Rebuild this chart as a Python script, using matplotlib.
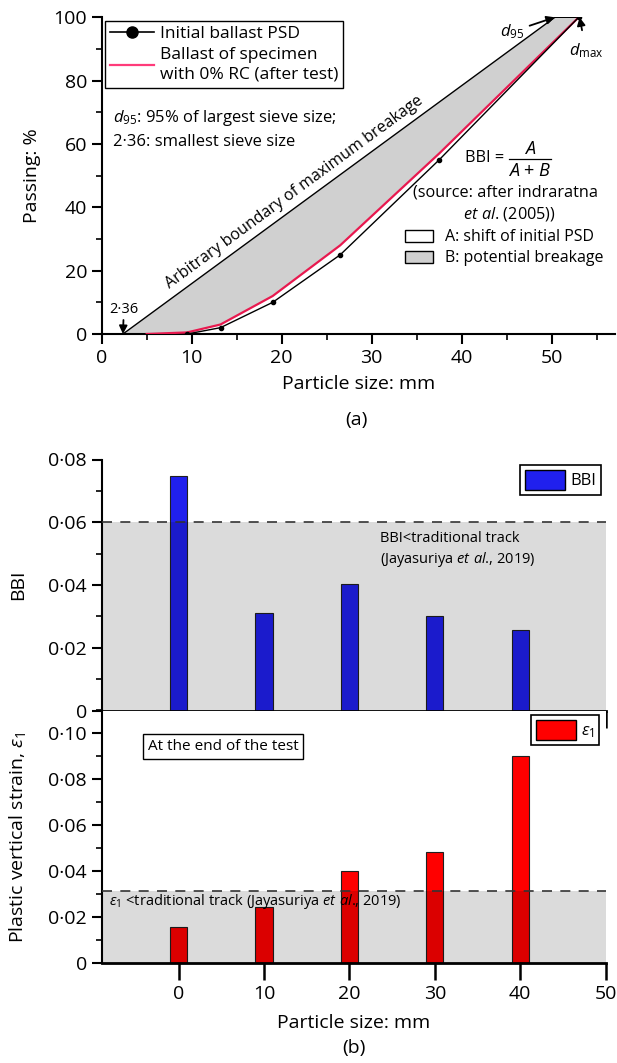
import matplotlib
matplotlib.use("Agg")
import matplotlib.pyplot as plt
from matplotlib.patches import Patch, Polygon
from matplotlib.lines import Line2D
from matplotlib.ticker import FuncFormatter, MultipleLocator
import numpy as np

plt.rcParams['font.family'] = ['Open Sans', 'DejaVu Sans']
plt.rcParams['mathtext.fontset'] = 'custom'
plt.rcParams['mathtext.rm'] = 'Open Sans'
plt.rcParams['mathtext.it'] = 'Open Sans:italic'
plt.rcParams['mathtext.bf'] = 'Open Sans:bold'

# ---------------- data ----------------
# panel (a): particle size distribution
sieve_initial = [9.5, 13.2, 19.0, 26.5, 37.5, 53.0]
passing_initial = [0, 2, 10, 25, 55, 100]
sieve_after = [5.0, 9.5, 13.2, 19.0, 26.5, 37.5, 53.0]
passing_after = [0, 0.5, 3, 12, 28, 57, 100]
smallest_sieve = 2.36
d95 = 50.35
dmax = 53.0

# panel (b): bar charts
particle_sizes = [0, 10, 20, 30, 40]
bbi_values = [0.0747, 0.0310, 0.0402, 0.0302, 0.0258]
strain_values = [0.0160, 0.0247, 0.0400, 0.0484, 0.0901]
bbi_threshold = 0.06
strain_threshold = 0.0315

W, H = 617, 1063
fig = plt.figure(figsize=(W / 100, H / 100), dpi=100)

def dot_fmt(v, pos):
    if abs(v) < 1e-12:
        return '0'
    return ('%.2f' % v).replace('.', '\u00b7')

TICK_FS = 14
LABEL_FS = 14

def style_axes(ax):
    for s in ['top', 'right']:
        ax.spines[s].set_visible(False)
    for s in ['left', 'bottom']:
        ax.spines[s].set_linewidth(1.5)
    ax.tick_params(which='major', direction='out', length=7, width=1.5, labelsize=TICK_FS)
    ax.tick_params(which='minor', direction='out', length=4, width=1.2)

# ---------------- panel (a) ----------------
axa = fig.add_axes([101.7 / W, (H - 334) / H, 513 / W, 316.7 / H])
style_axes(axa)
axa.set_xlim(0, 57)
axa.set_ylim(0, 100)
axa.xaxis.set_major_locator(MultipleLocator(10))
axa.xaxis.set_minor_locator(MultipleLocator(5))
axa.yaxis.set_major_locator(MultipleLocator(20))
axa.yaxis.set_minor_locator(MultipleLocator(10))

GREY = '#d0d0d0'
RED = '#e8194f'
# grey region B: between boundary of maximum breakage and PSD after test
poly_pts = [(smallest_sieve, 0), (d95, 100), (dmax, 100)]
poly_pts += list(zip(sieve_after[::-1], passing_after[::-1]))
axa.add_patch(Polygon(poly_pts, closed=True, facecolor=GREY, edgecolor='none', zorder=1))
axa.plot([smallest_sieve, d95, dmax], [0, 100, 100], color='black', lw=1.0, zorder=3)

axa.plot(sieve_after, passing_after, color=RED, lw=1.6, zorder=4)
axa.plot(sieve_initial, passing_initial, color='black', lw=1.0, marker='o', ms=3, zorder=5)

# legend of lines
h1 = Line2D([], [], color='black', lw=1.2, marker='o', ms=8)
h2 = Line2D([], [], color='#ff3b7a', lw=1.6)
leg1 = axa.legend([h1, h2], ['Initial ballast PSD', 'Ballast of specimen\nwith 0% RC (after test)'],
                  loc='upper left', bbox_to_anchor=(0.0065, 0.989), fontsize=12.5,
                  frameon=True, fancybox=False, edgecolor='black', framealpha=1,
                  handlelength=2.5, borderpad=0.3, labelspacing=0.3, handletextpad=0.35,
                  borderaxespad=0)
leg1.get_frame().set_linewidth(1.0)
leg1.get_texts()[1].set_linespacing(1.3)
axa.add_artist(leg1)

# legend of areas
leg2 = axa.legend([Patch(facecolor='white', edgecolor='black'),
                   Patch(facecolor=GREY, edgecolor='black')],
                  ['A: shift of initial PSD', 'B: potential breakage'],
                  loc='upper left', bbox_to_anchor=(0.592, 0.33), fontsize=11.5,
                  frameon=False, handlelength=1.7, handleheight=0.75,
                  labelspacing=0.3, handletextpad=0.8, borderaxespad=0, borderpad=0)

axa.text(1.2, 68.2, r'$d_{95}$: 95% of largest sieve size;', fontsize=12, ha='left', va='center')
axa.text(1.2, 60.6, '2\u00b736: smallest sieve size', fontsize=12, ha='left', va='center')

# boundary text along the boundary line
p1 = axa.transData.transform((smallest_sieve, 0))
p2 = axa.transData.transform((d95, 100))
ang = np.degrees(np.arctan2(p2[1] - p1[1], p2[0] - p1[0]))
xt = 22.5
yt = (xt - smallest_sieve) / (d95 - smallest_sieve) * 100
axa.text(xt - 0.6, yt + 0.8, 'Arbitrary boundary of maximum breakage', fontsize=11.5,
         rotation=ang, rotation_mode='anchor', ha='center', va='bottom')

# BBI formula drawn as a fraction
axa.text(40.4, 55.7, 'BBI =', fontsize=11.7, ha='left', va='center')
axa.text(47.6, 58.4, '$A$', fontsize=13, ha='center', va='center')
axa.plot([45.3, 49.9], [55.4, 55.4], color='black', lw=0.9)
axa.text(47.6, 51.6, '$A$ + $B$', fontsize=13, ha='center', va='center')
axa.text(44.9, 44.8, '(source: after indraratna', fontsize=11.7, ha='center', va='center')
axa.text(45.3, 37.9, r'$et\ al$. (2005))', fontsize=11.7, ha='center', va='center')

arrow_kw = dict(arrowstyle='-|>', color='black', lw=1.3, mutation_scale=12)
axa.annotate('2\u00b736', xy=(smallest_sieve, 0), xytext=(smallest_sieve + 0.1, 5.3), fontsize=10.5,
             ha='center', va='bottom',
             arrowprops=dict(shrinkA=0, shrinkB=0, **arrow_kw))
axa.annotate(r'$d_{95}$', xy=(d95, 100), xytext=(45.6, 95.5), fontsize=12,
             ha='center', va='center',
             arrowprops=dict(shrinkA=2, shrinkB=0, **arrow_kw))
axa.annotate(r'$d_{\mathrm{max}}$', xy=(dmax + 0.1, 100), xytext=(53.8, 89.5), fontsize=12,
             ha='center', va='center',
             arrowprops=dict(shrinkA=6, shrinkB=0, **arrow_kw))

axa.set_ylabel('Passing: %', fontsize=LABEL_FS)
axa.yaxis.set_label_coords(-0.118, 0.5)
axa.set_xlabel('Particle size: mm', fontsize=LABEL_FS, labelpad=6)
fig.text(356 / W, 1 - 420 / H, '(a)', fontsize=LABEL_FS, ha='center', va='center')

# ---------------- panel (b) ----------------
xl = (-9, 50)
axb1 = fig.add_axes([101.7 / W, (H - 710.5) / H, 504 / W, 251 / H])
axb2 = fig.add_axes([101.7 / W, (H - 963.3) / H, 504 / W, 252.8 / H])
for ax in (axb1, axb2):
    style_axes(ax)
    ax.set_xlim(*xl)
    ax.xaxis.set_major_locator(MultipleLocator(10))
    ax.yaxis.set_major_locator(MultipleLocator(0.02))
    ax.yaxis.set_minor_locator(MultipleLocator(0.01))
    ax.yaxis.set_major_formatter(FuncFormatter(dot_fmt))
    ax.spines['bottom'].set_linewidth(2.0)
    ax.tick_params(axis='x', length=12, width=1.8)

axb1.set_ylim(0, 0.08)
axb2.set_ylim(0, 0.11)
axb1.tick_params(axis='x', labelbottom=False)

BLUE = '#2020ee'
bw = 2.0
axb1.bar(particle_sizes, bbi_values, width=bw, color=BLUE, edgecolor='#202020', lw=0.8, zorder=1)
axb2.bar(particle_sizes, strain_values, width=bw, color='#ff0000', edgecolor='#202020', lw=0.8, zorder=1)

axb1.axhspan(0, bbi_threshold, color='black', alpha=0.14, lw=0, zorder=2)
axb2.axhspan(0, strain_threshold, color='black', alpha=0.14, lw=0, zorder=2)
axb1.axhline(bbi_threshold, color='#333333', lw=1.2, ls=(0, (6, 5)), zorder=3)
axb2.axhline(strain_threshold, color='#333333', lw=1.2, ls=(0, (6, 5)), zorder=3)

axb1.text(23.6, 0.0512, 'BBI<traditional track\n(Jayasuriya $et\\ al$., 2019)', fontsize=10.5,
          ha='left', va='center', linespacing=1.3, zorder=4)
axb2.text(-8.2, 0.0267, r'$\varepsilon_1$ <traditional track (Jayasuriya $et\ al$., 2019)',
          fontsize=10.5, ha='left', va='center', zorder=4)
axb2.text(5.25, 0.0943, 'At the end of the test', fontsize=11, ha='center', va='center',
          bbox=dict(boxstyle='square,pad=0.3', facecolor='white', edgecolor='black', lw=1.0), zorder=5)

lb1 = axb1.legend([Patch(facecolor=BLUE, edgecolor='black')], ['BBI'], loc='upper right',
                  bbox_to_anchor=(0.991, 0.978), fontsize=12, frameon=True, fancybox=False,
                  edgecolor='black', framealpha=1, handlelength=2.4, handleheight=1.45,
                  handletextpad=0.3, borderpad=0.3, borderaxespad=0)
lb1.get_frame().set_linewidth(1.2)
lb2 = axb2.legend([Patch(facecolor='#ff0000', edgecolor='black')], [r'$\varepsilon_1$'], loc='upper right',
                  bbox_to_anchor=(0.987, 0.982), fontsize=12, frameon=True, fancybox=False,
                  edgecolor='black', framealpha=1, handlelength=2.4, handleheight=1.5,
                  handletextpad=0.3, borderpad=0.3, borderaxespad=0)
lb2.get_frame().set_linewidth(1.2)

axb1.set_ylabel('BBI', fontsize=LABEL_FS)
axb2.set_ylabel(r'Plastic vertical strain, $\varepsilon_1$', fontsize=LABEL_FS)
axb2.set_xlabel('Particle size: mm', fontsize=LABEL_FS, labelpad=8)
axb1.yaxis.set_label_coords(-0.147, 0.5)
axb2.yaxis.set_label_coords(-0.147, 0.5)
fig.text(354 / W, 1 - 1048 / H, '(b)', fontsize=LABEL_FS, ha='center', va='center')

fig.savefig('out.png', dpi=100)
